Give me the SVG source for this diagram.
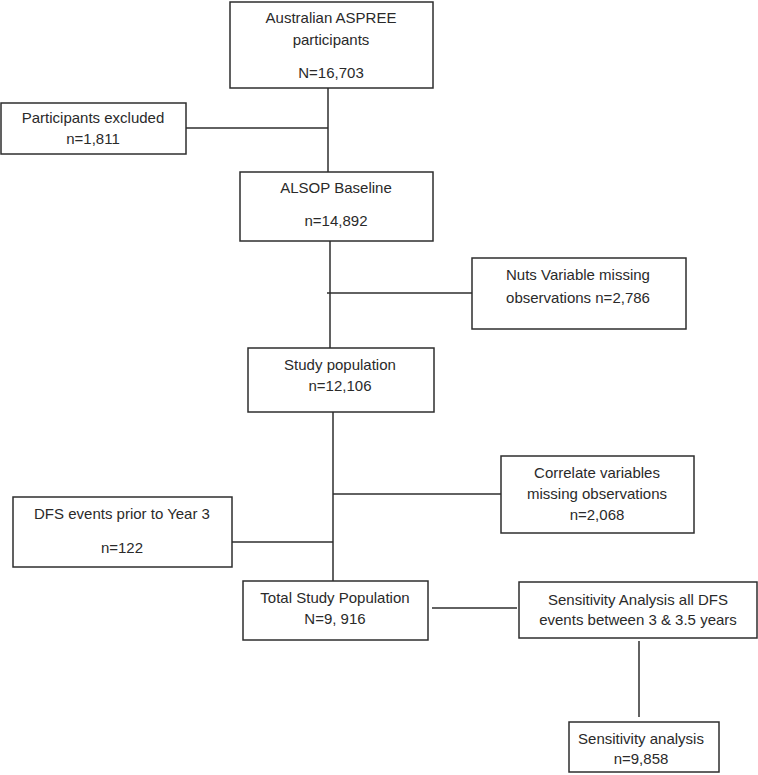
<svg xmlns="http://www.w3.org/2000/svg" width="758" height="775" viewBox="0 0 758 775">
<style>
rect{fill:#fff;stroke:#2e2e2e;stroke-width:1.5}
text{font-family:"Liberation Sans",Arial,sans-serif;font-size:15px;fill:#2a2a2a;text-anchor:middle}
.c line{stroke:#2e2e2e;stroke-width:1.5}
</style>
<rect x="0" y="0" width="758" height="775" style="stroke:none"/>
<g class="c" id="connectors">
<line x1="328" y1="88" x2="328" y2="172"/>
<line x1="186" y1="128" x2="328" y2="128"/>
<line x1="330" y1="241" x2="330" y2="348"/>
<line x1="327" y1="293" x2="472" y2="293"/>
<line x1="333" y1="412" x2="333" y2="581"/>
<line x1="333" y1="494" x2="501" y2="494"/>
<line x1="232" y1="542" x2="333" y2="542"/>
<line x1="432" y1="608" x2="517" y2="608"/>
<line x1="639" y1="641" x2="639" y2="717"/>
</g>
<g id="n1"><rect x="230" y="2" width="203" height="86"/><text x="331" y="23">Australian ASPREE</text><text x="331" y="45">participants</text><text x="331" y="78">N=16,703</text></g>
<g id="n2"><rect x="1" y="103" width="185" height="51"/><text x="93" y="123">Participants excluded</text><text x="93" y="144">n=1,811</text></g>
<g id="n3"><rect x="240" y="172" width="193" height="69"/><text x="336" y="193">ALSOP Baseline</text><text x="336" y="226">n=14,892</text></g>
<g id="n4"><rect x="472" y="258" width="214" height="71"/><text x="578" y="280">Nuts Variable missing</text><text x="578" y="303">observations n=2,786</text></g>
<g id="n5"><rect x="248" y="348" width="186" height="64"/><text x="340" y="370">Study population</text><text x="340" y="391">n=12,106</text></g>
<g id="n6"><rect x="501" y="456" width="193" height="77"/><text x="597" y="478">Correlate variables</text><text x="597" y="499">missing observations</text><text x="597" y="520">n=2,068</text></g>
<g id="n7"><rect x="13" y="497" width="219" height="70"/><text x="122" y="519">DFS events prior to Year 3</text><text x="122" y="553">n=122</text></g>
<g id="n8"><rect x="243" y="581" width="185" height="59"/><text x="335" y="603">Total Study Population</text><text x="335" y="624">N=9, 916</text></g>
<g id="n9"><rect x="519" y="582" width="238" height="56"/><text x="638" y="605">Sensitivity Analysis all DFS</text><text x="638" y="625">events between 3 &amp; 3.5 years</text></g>
<g id="n10"><rect x="569" y="722" width="150" height="50"/><text x="641" y="744">Sensitivity analysis</text><text x="641" y="764">n=9,858</text></g>
</svg>
